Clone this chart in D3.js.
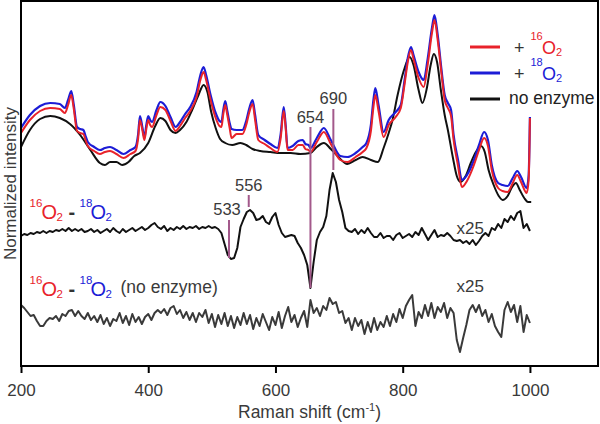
<!DOCTYPE html>
<html>
<head>
<meta charset="utf-8">
<script src="https://cdn.jsdelivr.net/npm/d3@7"></script>
<style>
  body { margin: 0; background: #fff; }
  svg { display: block; font-family: "Liberation Sans", Arial, sans-serif; }
</style>
</head>
<body>
<div id="chart"></div>
<script>
// Raman spectra (intensity in arbitrary normalized units)
const o2Shift = [200,214,230,246,261,269,274,279,283,288,293,298,302,305,315,324,332,340,350,361,
  372,380,384,387,391,394,397,400,403,406,413,419,427,435,443,450,458,466,476,482,
  487,491,498,506,512,515,518,521,524,528,531,539,548,554,559,564,568,573,583,592,
  603,608,613,616,619,627,636,643,647,652,655,665,676,687,702,713,726,737,743,750,
  754,757,762,770,778,789,797,803,808,813,817,825,833,839,846,850,855,861,866,871,
  876,880,887,893,901,912,920,928,934,940,950,957,965,973,980,986,995,998,1000];

const o18 = [238,251,260,263,262,258,266,275,261,239,237,236,229,224,219,216,218,219,216,212,
  216,219,231,250,238,228,241,250,246,244,256,264,260,249,239,244,252,259,274,291,
  299,291,271,253,245,244,256,265,256,243,237,236,236,245,258,266,251,231,226,222,
  218,231,259,241,218,220,225,226,222,221,218,228,238,226,210,209,213,219,223,241,
  266,278,261,234,246,254,261,286,308,319,311,294,286,306,338,351,331,296,271,263,
  256,231,206,186,191,206,221,234,226,201,183,181,180,188,195,189,178,191,249];

const o16 = [233,246,255,258,257,253,261,271,257,235,233,232,225,220,215,212,214,215,212,208,
  212,215,227,246,235,226,237,246,241,239,251,259,256,245,235,240,248,255,269,286,
  294,286,266,248,240,239,252,261,252,238,228,232,232,241,254,262,246,226,222,218,
  214,227,255,238,216,216,221,221,217,216,214,224,234,222,206,204,209,214,218,235,
  259,271,255,229,241,249,258,282,304,316,307,288,279,300,333,346,326,292,266,258,
  250,226,200,179,185,201,216,228,220,196,178,175,174,183,191,184,173,186,248];

const noEnzShift = [200,214,230,246,261,277,293,309,324,332,340,350,359,369,378,387,400,411,419,427,
  435,443,450,460,469,479,487,493,499,506,513,521,532,545,554,564,576,592,608,624,
  639,655,665,676,687,699,713,726,737,750,761,770,778,784,792,802,811,817,825,831,
  838,844,849,854,860,866,871,879,885,891,899,907,915,923,929,935,943,951,957,965,
  972,978,984,991,997,1002];

const noEnz = [219,236,247,250,248,242,231,216,203,201,204,204,201,204,210,213,223,240,248,245,
  236,233,236,244,256,271,281,274,254,238,227,223,221,223,221,217,215,214,213,213,
  212,213,219,223,217,209,202,206,209,206,204,218,233,246,271,296,309,301,276,263,
  278,301,312,304,276,251,236,208,190,184,190,203,214,220,214,196,181,170,166,170,
  179,183,176,168,164,164];

// difference spectra (x25), sampled every 5 cm-1 from 200 to 1000
const diffShift = d3.range(200, 1001, 5);

const diffEnz = [
  -4,-2,-3,-1,-2,0,-1,1,-1,1,
  0,2,1,3,1,4,1,3,1,3,
  0,1,3,0,2,-1,1,3,0,4,
  1,-1,3,0,2,4,1,3,5,2,
  4,7,9,5,3,6,1,4,2,5,
  3,6,3,5,4,6,3,5,4,6,
  4,5,3,-1,-12,-23,-27,-26,-16,5,
  13,20,22,19,12,13,16,10,8,15,
  19,7,-1,-5,-4,-3,-4,-11,-16,-23,
  -33,-56,-30,-8,0,5,16,42,59,50,
  32,20,4,1,0,3,-2,2,-1,4,
  -1,-5,-5,-1,-6,-4,-4,-8,-3,-1,
  -6,-4,-2,-5,0,-3,4,-2,-8,-3,
  2,-5,-3,-4,-1,-4,-8,-9,-8,-11,
  -9,-12,-8,-13,-9,-4,-1,-4,4,2,
  8,4,13,10,16,12,19,21,4,8,
  1];

const diffCtrl = [
  13,10,6,2,3,-3,-8,-8,-3,0,
  -1,2,-3,4,2,7,8,2,7,2,
  -1,5,-2,2,-4,3,-6,0,-8,-1,
  -3,5,-5,2,-7,4,-4,1,-6,1,
  4,-2,5,8,5,9,3,10,12,4,
  8,0,6,-2,5,-4,5,1,8,-5,
  4,-9,3,-6,5,-8,2,-10,1,-7,
  5,-6,3,-11,0,-8,4,-4,-12,1,
  -7,6,-10,2,11,-4,3,-9,0,7,
  -9,18,5,10,2,12,8,20,14,16,
  5,7,-5,0,-12,0,-8,-2,-16,-4,
  -14,0,-12,-4,-9,2,-8,4,-4,9,
  0,12,18,23,-8,6,0,13,2,15,
  0,11,6,15,0,10,5,-22,-34,-20,
  -7,8,13,6,13,2,8,-4,4,-8,
  -14,-19,8,16,6,13,-4,12,-14,3,
  -5];

const diffOffset = 134;
const ctrlOffset = 48;

// marked bands
const peakShift = [527, 558, 655, 691];
const peakLabel = ['533', '556', '654', '690'];
const peakTop = [146, 171, 239, 257];
const peakBottom = [108, 159, 78, 196];
const peakLabelAt = [151, 175, 243, 262];

const xTicks = [200, 400, 600, 800, 1000];

// Configuration
const width = 600;
const height = 424;
const plot = { left: 21, right: 598, top: 1, bottom: 366 };
const RED = '#e8222a';
const BLUE = '#1c1cd6';
const MAUVE = '#a3598b';
const GRAY = '#3a3a3a';

const x = d3.scaleLinear().domain([200, 1107]).range([plot.left, plot.right]);
const y = d3.scaleLinear().domain([0, 365]).range([plot.bottom, plot.top]);

const svg = d3.select('#chart')
  .append('svg')
  .attr('width', width)
  .attr('height', height);

const smooth = d3.line()
  .x(d => x(d[0]))
  .y(d => y(d[1]))
  .curve(d3.curveMonotoneX);

const jagged = d3.line()
  .x(d => x(d[0]))
  .y(d => y(d[1]));

// top spectra
const drawSpec = (xs, ys, color, w) => {
  svg.append('path')
    .datum(xs.map((s, i) => [s, ys[i]]))
    .attr('fill', 'none')
    .attr('stroke', color)
    .attr('stroke-width', w)
    .attr('stroke-linejoin', 'round')
    .attr('d', smooth);
};
drawSpec(noEnzShift, noEnz, '#111', 2);
drawSpec(o2Shift, o18, BLUE, 2.2);
drawSpec(o2Shift, o16, RED, 2);

// difference spectra
svg.append('path')
  .datum(diffShift.map((s, i) => [s, diffOffset + diffEnz[i]]))
  .attr('fill', 'none')
  .attr('stroke', '#111')
  .attr('stroke-width', 2)
  .attr('stroke-linejoin', 'round')
  .attr('d', jagged);

svg.append('path')
  .datum(diffShift.map((s, i) => [s, ctrlOffset + diffCtrl[i]]))
  .attr('fill', 'none')
  .attr('stroke', GRAY)
  .attr('stroke-width', 2)
  .attr('stroke-linejoin', 'round')
  .attr('d', jagged);

// band markers
peakShift.forEach((s, i) => {
  svg.append('line')
    .attr('x1', x(s)).attr('x2', x(s))
    .attr('y1', y(peakTop[i])).attr('y2', y(peakBottom[i]))
    .attr('stroke', MAUVE)
    .attr('stroke-width', 2);
  svg.append('text')
    .attr('x', x(s) - (i === 0 ? 2 : 0))
    .attr('y', y(peakLabelAt[i]))
    .attr('text-anchor', 'middle')
    .style('font-size', '16.5px')
    .attr('fill', GRAY)
    .text(peakLabel[i]);
});

// x25 notes
[diffOffset - 6, ctrlOffset + 22].forEach(v => {
  svg.append('text')
    .attr('x', 456.5)
    .attr('y', y(v + 4))
    .style('font-size', '17px')
    .attr('fill', GRAY)
    .text('x25');
});

// isotope difference labels
function isoLabel(x0, base) {
  const t = svg.append('text').attr('y', base);
  const part = (txt, dx, dy, size, color, bold) => t.append('tspan')
    .attr('x', x0 + dx).attr('y', base + dy)
    .style('font-size', size + 'px')
    .style('font-weight', bold ? 'bold' : 'normal')
    .attr('fill', color)
    .text(txt);
  part('16', 0, -12, 11.5, RED);
  part('O', 12, 0, 20, RED);
  part('2', 27, 1.5, 11.5, RED);
  part('-', 39, 0, 20, '#333', true);
  part('18', 50, -12, 11.5, BLUE);
  part('O', 61, 0, 20, BLUE);
  part('2', 76, 1.5, 11.5, BLUE);
  return t;
}
isoLabel(29.5, 219);
isoLabel(29.5, 296);
svg.append('text')
  .attr('x', 120.5)
  .attr('y', 293)
  .style('font-size', '17.5px')
  .attr('fill', GRAY)
  .text('(no enzyme)');

// legend
const legend = svg.append('g');
const legendRows = [
  { color: RED, iso: '16' },
  { color: BLUE, iso: '18' },
  { color: '#111', name: 'no enzyme' }
];
legendRows.forEach((r, i) => {
  const ly = 47 + i * 26;
  legend.append('line')
    .attr('x1', 470).attr('x2', 500)
    .attr('y1', ly).attr('y2', ly)
    .attr('stroke', r.color)
    .attr('stroke-width', 3);
  if (r.iso) {
    const base = ly + 7;
    const t = legend.append('text').attr('y', base);
    t.append('tspan').attr('x', 514).style('font-size', '18px').attr('fill', '#333').text('+');
    t.append('tspan').attr('x', 530.5).attr('y', base - 14).style('font-size', '11px').attr('fill', r.color).text(r.iso);
    t.append('tspan').attr('x', 542).attr('y', base).style('font-size', '18px').attr('fill', r.color).text('O');
    t.append('tspan').attr('x', 556).attr('y', base + 2).style('font-size', '11px').attr('fill', r.color).text('2');
  } else {
    legend.append('text')
      .attr('x', 509)
      .attr('y', ly + 5)
      .style('font-size', '17.5px')
      .attr('fill', '#222')
      .text(r.name);
  }
});

// frame and axis
svg.append('rect')
  .attr('x', plot.left).attr('y', plot.top)
  .attr('width', plot.right - plot.left)
  .attr('height', plot.bottom - plot.top)
  .attr('fill', 'none')
  .attr('stroke', '#000')
  .attr('stroke-width', 2);

const xAxis = svg.append('g')
  .attr('transform', `translate(0,${plot.bottom})`)
  .call(d3.axisBottom(x).tickValues(xTicks).tickFormat(d3.format('d')).tickSize(7).tickPadding(11));
xAxis.select('.domain').remove();
xAxis.selectAll('line').attr('stroke', '#000').attr('stroke-width', 2);
xAxis.selectAll('text')
  .style('font-size', '17px')
  .style('font-family', '"Liberation Sans", Arial, sans-serif')
  .attr('fill', GRAY);

const xTitle = svg.append('text')
  .attr('x', (plot.left + plot.right) / 2)
  .attr('y', 418)
  .attr('text-anchor', 'middle')
  .style('font-size', '17.5px')
  .attr('fill', GRAY);
xTitle.append('tspan').text('Raman shift (cm');
xTitle.append('tspan').attr('dy', -7).style('font-size', '11px').text('-1');
xTitle.append('tspan').attr('dy', 7).text(')');

svg.append('text')
  .attr('transform', `translate(15.5,${(plot.top + plot.bottom) / 2}) rotate(-90)`)
  .attr('text-anchor', 'middle')
  .style('font-size', '17px')
  .attr('fill', GRAY)
  .text('Normalized intensity');
</script>
</body>
</html>
